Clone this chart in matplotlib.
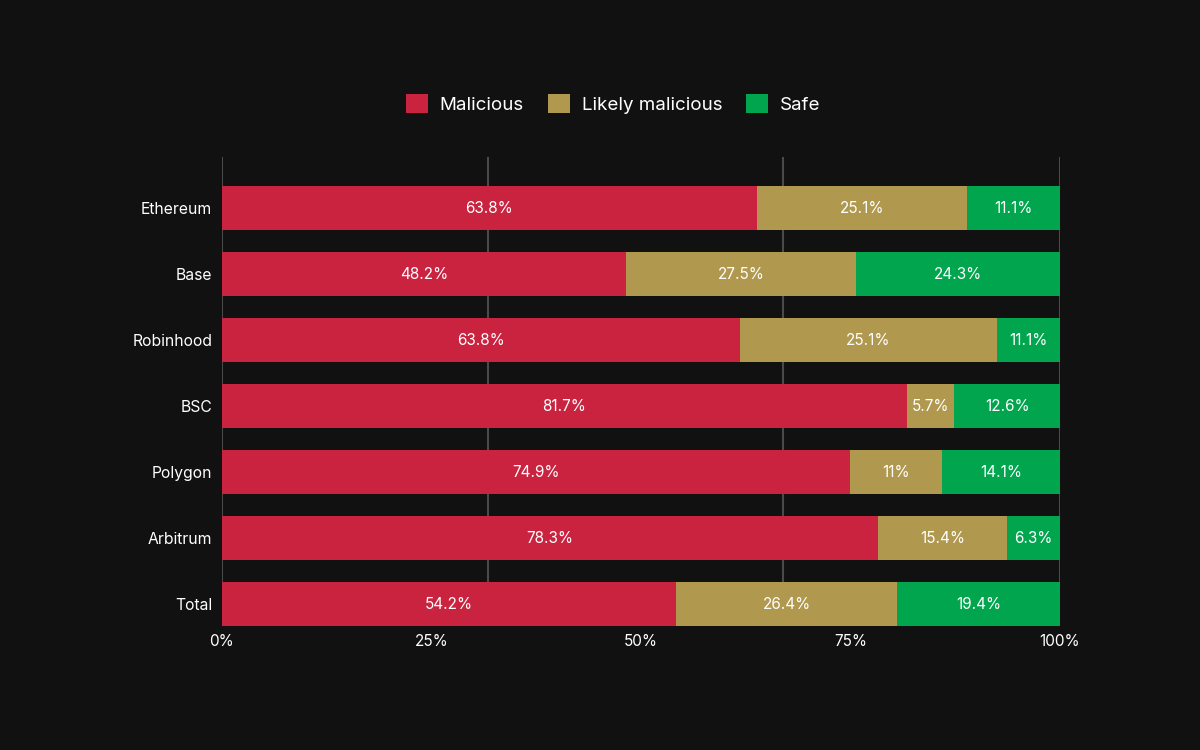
import numpy as np
import matplotlib.pyplot as plt

plt.rcParams['font.family'] = ['Inter', 'DejaVu Sans']

# Data (bar widths in %, as drawn)
chains = ['Ethereum', 'Base', 'Robinhood', 'BSC', 'Polygon', 'Arbitrum', 'Total']
malicious = [63.8, 48.2, 61.8, 81.7, 74.9, 78.3, 54.2]
likely = [25.1, 27.5, 30.7, 5.7, 11.0, 15.4, 26.4]
safe = [11.1, 24.3, 7.5, 12.6, 14.1, 6.3, 19.4]

# printed labels (Robinhood row repeats Ethereum's labels in the original)
malicious_lbl = ['63.8%', '48.2%', '63.8%', '81.7%', '74.9%', '78.3%', '54.2%']
likely_lbl = ['25.1%', '27.5%', '25.1%', '5.7%', '11%', '15.4%', '26.4%']
safe_lbl = ['11.1%', '24.3%', '11.1%', '12.6%', '14.1%', '6.3%', '19.4%']

xticks = [0, 25, 50, 75, 100]
xtick_lbl = ['0%', '25%', '50%', '75%', '100%']
grid_x = [0, 31.7, 66.9, 100]

series = ['Malicious', 'Likely malicious', 'Safe']
colors = ['#C92340', '#B0984E', '#00A54E']
bg = '#111111'

fig = plt.figure(figsize=(12, 7.5), dpi=100, facecolor=bg)
ax = fig.add_axes([0.185, 0.1653, 0.6983, 0.6253])
ax.set_facecolor(bg)

y = np.arange(len(chains))
left = np.zeros(len(chains))
for vals, lbls, c, name in zip([malicious, likely, safe],
                               [malicious_lbl, likely_lbl, safe_lbl],
                               colors, series):
    vals = np.array(vals)
    ax.barh(y, vals, left=left, height=0.667, color=c, label=name, zorder=3)
    for i, t in enumerate(lbls):
        ax.text(left[i] + vals[i] / 2, y[i], t, ha='center', va='center',
                color='white', fontsize=11, zorder=4)
    left += vals

for gx in grid_x:
    ax.axvline(gx, color='#4a4a4a', lw=1.5, zorder=1)

ax.set_xlim(0, 100)
ax.set_ylim(6.333, -0.773)
ax.set_yticks(y)
ax.set_yticklabels(chains)
ax.set_xticks(xticks)
ax.set_xticklabels(xtick_lbl)
ax.tick_params(axis='both', length=0, colors='white', labelsize=11)
ax.tick_params(axis='x', pad=6)
ax.tick_params(axis='y', pad=7, labelsize=11.3)
for s in ax.spines.values():
    s.set_visible(False)

fig.legend(loc='center', bbox_to_anchor=(0.511, 0.861), ncol=3, frameon=False,
           fontsize=13.5, labelcolor='white', handlelength=1.17, handleheight=1.17,
           handletextpad=0.64, columnspacing=1.28)

fig.savefig('out.png', dpi=100, facecolor=bg)
